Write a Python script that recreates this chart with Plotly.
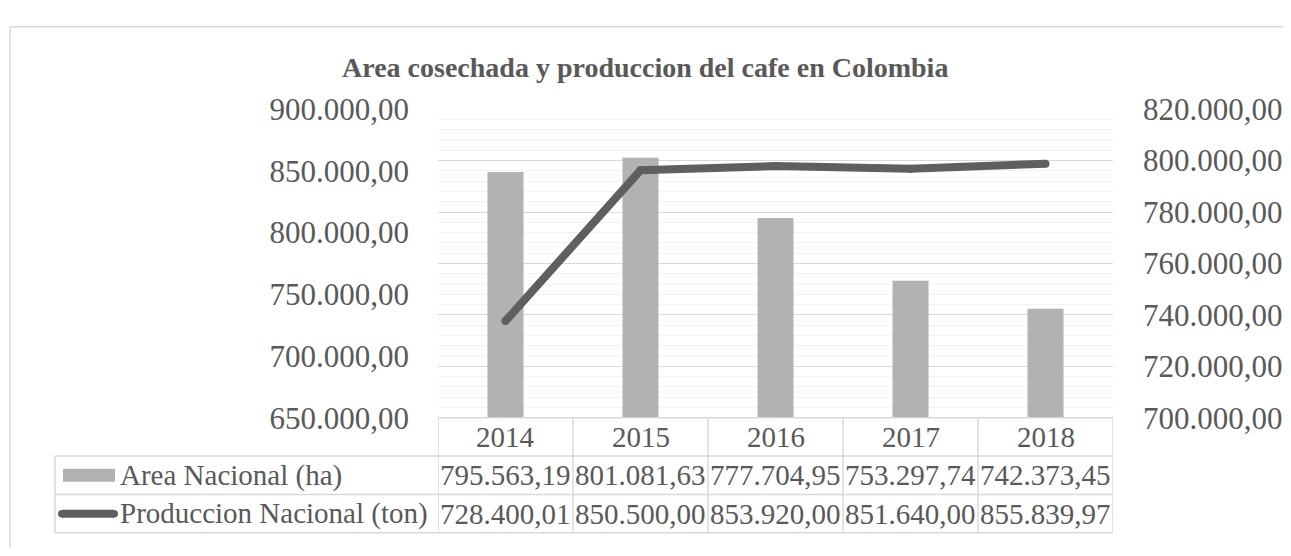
import plotly.graph_objects as go

years = ["2014", "2015", "2016", "2017", "2018"]
area_ha = [795563.19, 801081.63, 777704.95, 753297.74, 742373.45]
prod_ton = [728400.01, 850500.00, 853920.00, 851640.00, 855839.97]
series_names = ["Area Nacional (ha)", "Produccion Nacional (ton)"]
title = "Area cosechada y produccion del cafe en Colombia"

OFF = 8                     # default page body margin
W, H = 1291 - 2 * OFF, 556 - 2 * OFF
FONT = "Liberation Serif"
TXT = "#595959"
GRID = "#d9d9d9"
MINOR = "#f2f2f2"
BAR = "#b2b2b2"
LINE = "#5f5f5f"


def px(x):
    return (x - OFF) / W


def py(y):
    return 1 - (y - OFF) / H


def fmt(v):
    s = f"{v:,.2f}"
    return s.replace(",", "X").replace(".", ",").replace("X", ".")


idx = list(range(len(years)))

fig = go.Figure()
fig.add_trace(go.Bar(x=idx, y=area_ha, yaxis="y", name=series_names[0],
                     marker=dict(color=BAR, line=dict(width=0)), showlegend=False))
fig.add_trace(go.Scatter(x=idx, y=prod_ton, yaxis="y2", name=series_names[1],
                         mode="lines+markers",
                         line=dict(color=LINE, width=8),
                         marker=dict(color=LINE, size=8, line=dict(width=0)),
                         showlegend=False))

PL, PR, PT, PB = 438, 1113, 98, 428
ROWS = [PB, 469, 510, 551]
TL = 55

fig.update_layout(
    width=W, height=H, autosize=False,
    margin=dict(l=0, r=0, t=0, b=0),
    paper_bgcolor="white", plot_bgcolor="white",
    separators=",.",
    bargap=0.733,
    font=dict(family=FONT, color=TXT, size=30),
    xaxis=dict(domain=[px(PL), px(PR)], range=[-0.5, 4.5],
               showticklabels=False, showgrid=False, zeroline=False, showline=False),
    yaxis=dict(domain=[py(PB), py(PT)], side="right", range=[700000, 820000],
               dtick=20000, tickformat=",.2f", showgrid=True, gridcolor=GRID,
               gridwidth=1, zeroline=False, showline=False,
               minor=dict(dtick=4000, showgrid=True, gridcolor=MINOR, gridwidth=1),
               tickfont=dict(family=FONT, size=31, color=TXT),
               ticklabelstandoff=29),
    yaxis2=dict(overlaying="y", side="left", range=[650000, 900000],
                dtick=50000, tickformat=",.2f", showgrid=False, zeroline=False,
                showline=False, tickfont=dict(family=FONT, size=31, color=TXT),
                ticklabelstandoff=28),
)

annotations = [dict(text="<b>" + title + "</b>", x=px(645), y=py(53), xref="paper", yref="paper",
                    showarrow=False, xanchor="center", yanchor="middle",
                    font=dict(family=FONT, size=28, color=TXT))]

row_centers = [(ROWS[i] + ROWS[i + 1]) / 2 for i in range(3)]
for i in idx:
    annotations.append(dict(text=years[i], x=i, xref="x", y=py(row_centers[0]), yref="paper",
                            showarrow=False, xanchor="center", yanchor="middle",
                            font=dict(family=FONT, size=29, color=TXT)))
    annotations.append(dict(text=fmt(area_ha[i]), x=i, xref="x", y=py(row_centers[1]), yref="paper",
                            showarrow=False, xanchor="center", yanchor="middle",
                            font=dict(family=FONT, size=29, color=TXT)))
    annotations.append(dict(text=fmt(prod_ton[i]), x=i, xref="x", y=py(row_centers[2]), yref="paper",
                            showarrow=False, xanchor="center", yanchor="middle",
                            font=dict(family=FONT, size=29, color=TXT)))
for name, yc in zip(series_names, row_centers[1:]):
    annotations.append(dict(text=name, x=px(118), xref="paper", y=py(yc), yref="paper",
                            showarrow=False, xanchor="left", yanchor="middle",
                            font=dict(family=FONT, size=29, color=TXT)))

shapes = []
# outer chart border (top & left visible)
shapes.append(dict(type="line", xref="paper", yref="paper", x0=px(10), x1=1.05, y0=py(10), y1=py(10),
                   line=dict(color=GRID, width=1.5)))
shapes.append(dict(type="line", xref="paper", yref="paper", x0=px(10), x1=px(10), y0=py(10), y1=-0.05,
                   line=dict(color=GRID, width=1.5)))
# table horizontal lines
shapes.append(dict(type="line", xref="x", yref="paper", x0=-0.5, x1=4.5, y0=py(ROWS[0]), y1=py(ROWS[0]),
                   line=dict(color=GRID, width=1.5)))
for r in ROWS[1:]:
    shapes.append(dict(type="line", xref="paper", yref="paper", x0=px(TL), x1=px(PR), y0=py(r), y1=py(r),
                       line=dict(color=GRID, width=1.5)))
# table vertical lines
for i in range(len(years) + 1):
    shapes.append(dict(type="line", xref="x", yref="paper", x0=i - 0.5, x1=i - 0.5,
                       y0=py(ROWS[0]), y1=py(ROWS[3]), line=dict(color=GRID, width=1.5)))
shapes.append(dict(type="line", xref="paper", yref="paper", x0=px(TL), x1=px(TL),
                   y0=py(ROWS[1]), y1=py(ROWS[3]), line=dict(color=GRID, width=1.5)))
# legend keys inside the table
shapes.append(dict(type="rect", xref="paper", yref="paper", x0=px(63), x1=px(115),
                   y0=py(row_centers[1] + 7), y1=py(row_centers[1] - 7),
                   fillcolor=BAR, line=dict(width=0)))
shapes.append(dict(type="line", xref="paper", yref="paper", x0=px(62), x1=px(114),
                   y0=py(row_centers[2]), y1=py(row_centers[2]),
                   line=dict(color=LINE, width=8)))
for xe in (62, 114):
    shapes.append(dict(type="circle", xref="paper", yref="paper", x0=px(xe - 4), x1=px(xe + 4),
                       y0=py(row_centers[2] + 4), y1=py(row_centers[2] - 4),
                       fillcolor=LINE, line=dict(width=0)))

fig.update_layout(annotations=annotations, shapes=shapes)
fig.write_html("out.html")
